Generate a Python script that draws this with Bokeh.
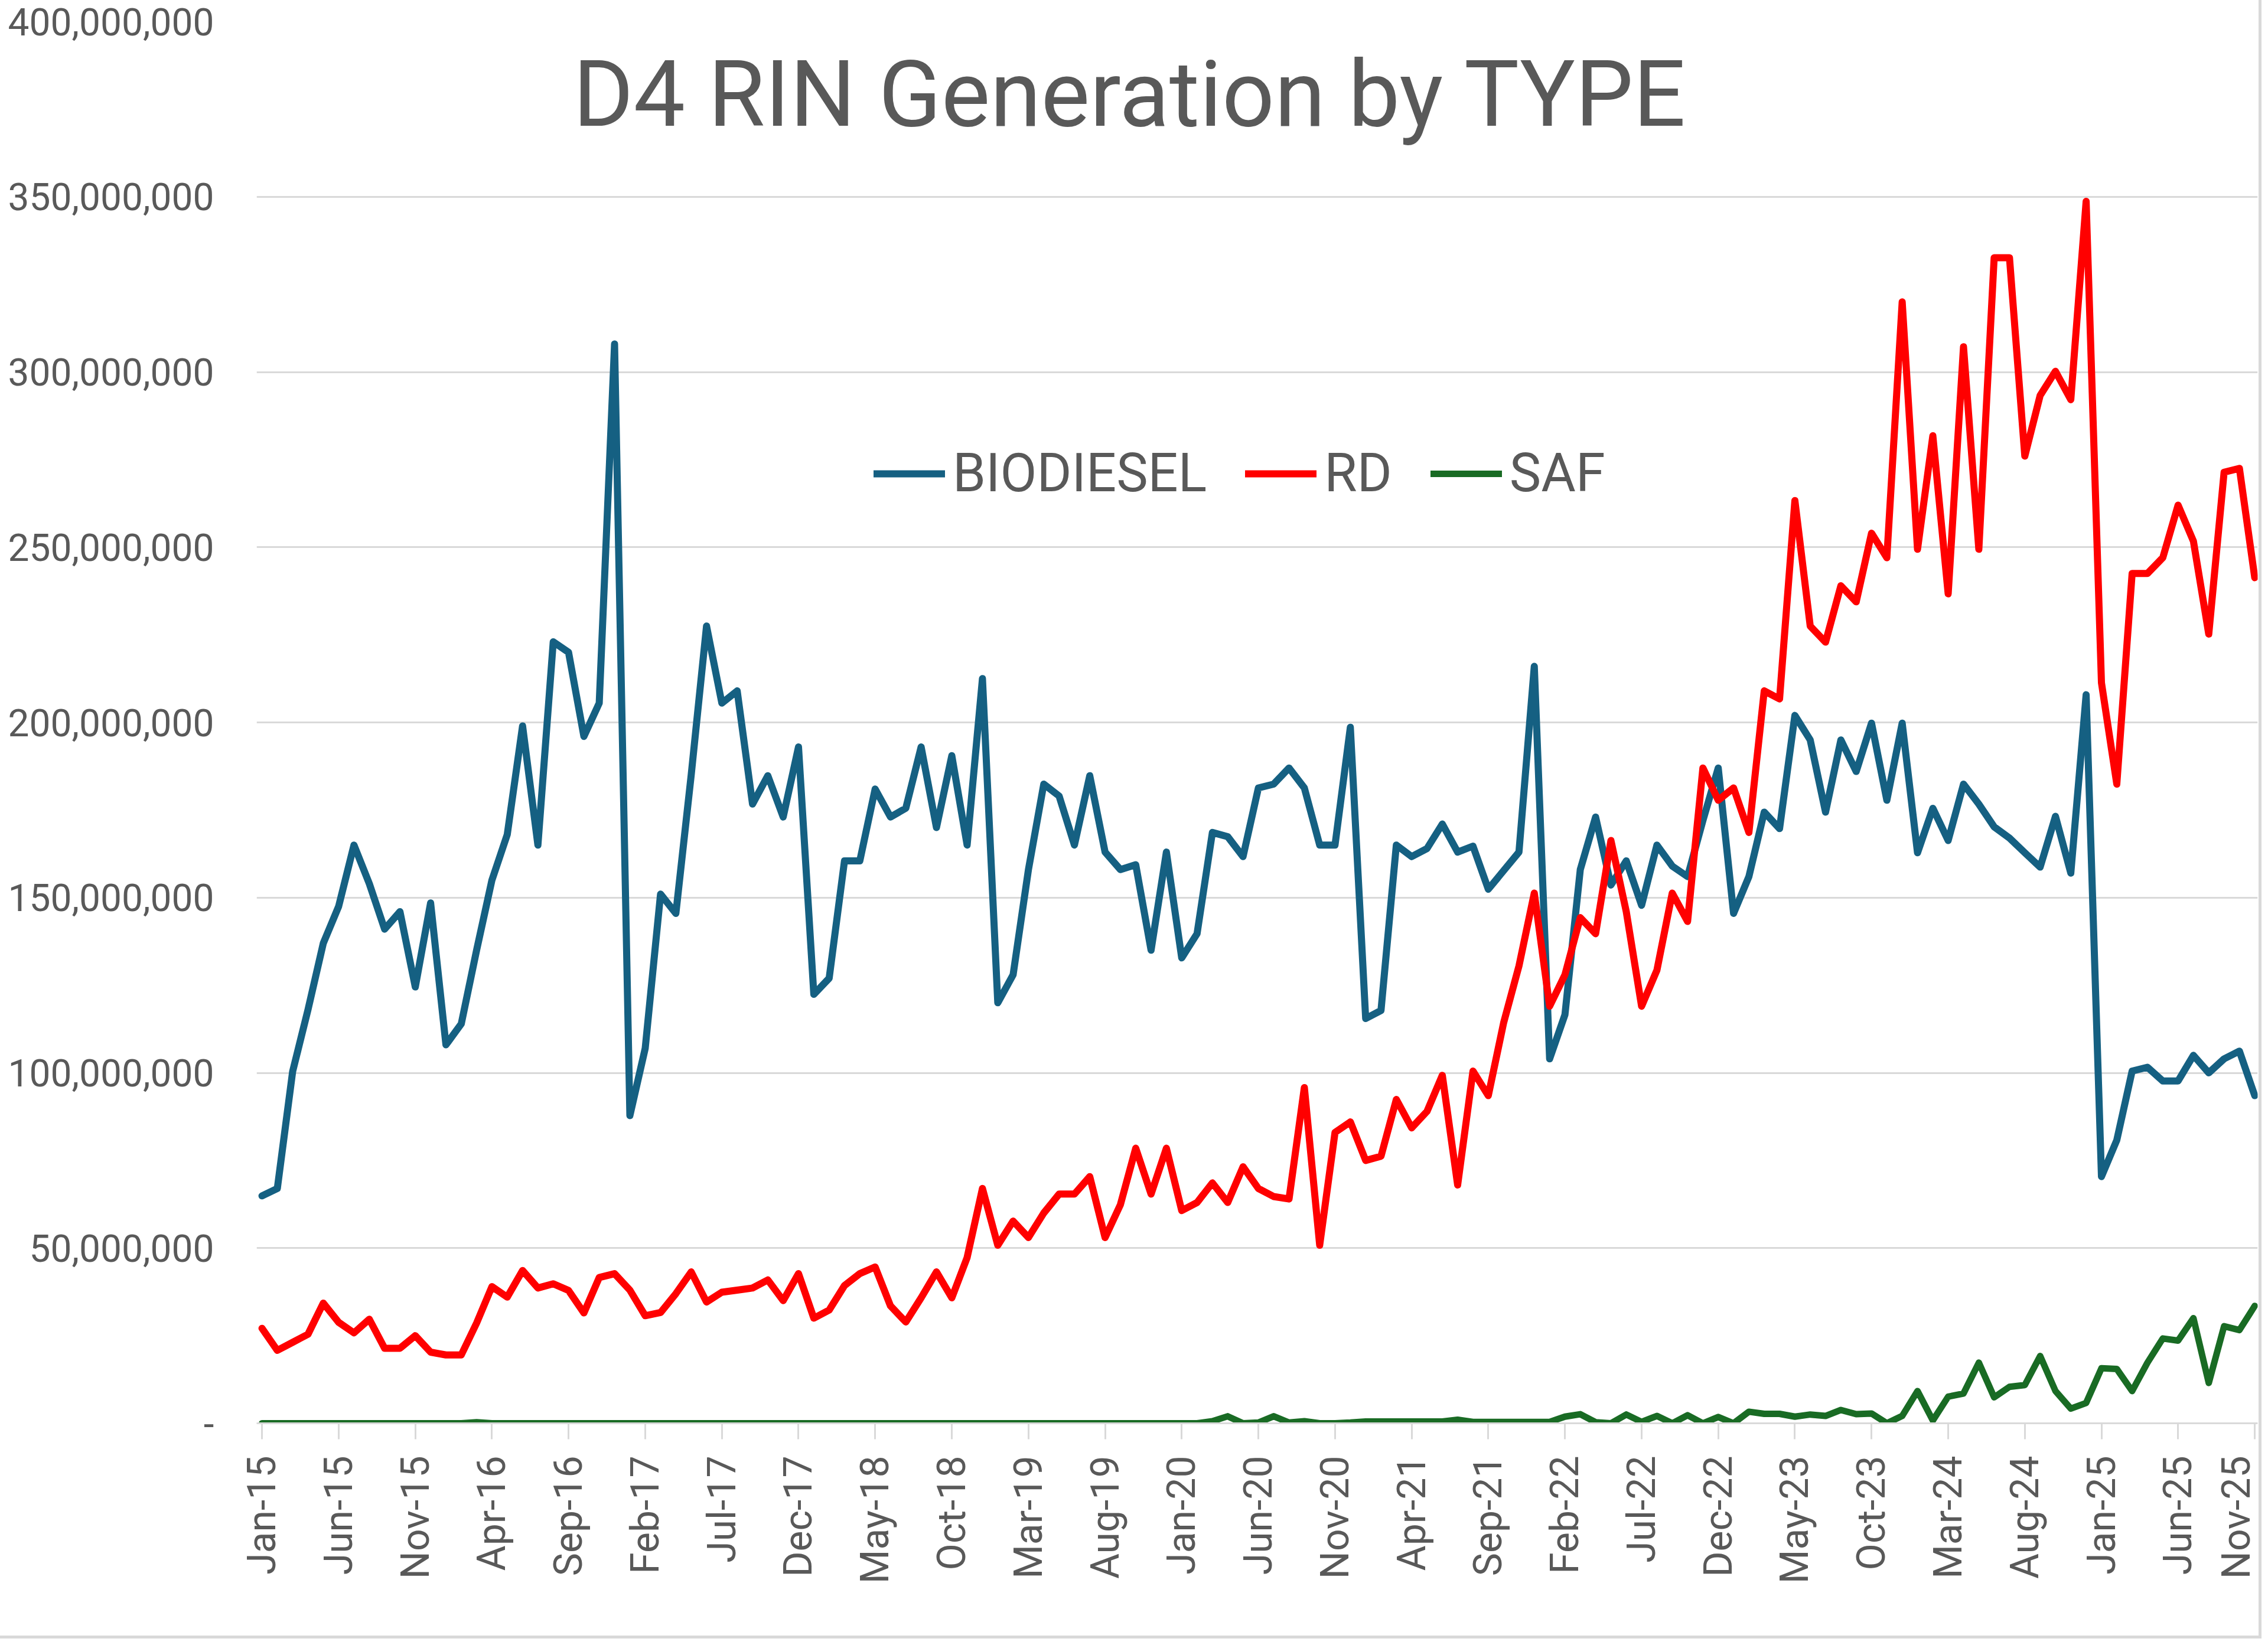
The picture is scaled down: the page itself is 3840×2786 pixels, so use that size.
from math import pi

from bokeh.plotting import figure
from bokeh.models import (ColumnDataSource, FixedTicker, Label, Legend, LegendItem,
                          NumeralTickFormatter, Range1d)
from bokeh.embed import file_html
from bokeh.resources import INLINE

TITLE = "D4 RIN Generation by TYPE"

# monthly RIN generation, millions, Jan-15 .. Nov-25
BIODIESEL = [
    64.9, 67.0, 100.4, 118.0, 137.0, 147.5, 165.0, 154.0, 141.0, 146.0,
    124.5, 148.5, 108.0, 114.0, 135.0, 155.0, 168.0, 199.0, 165.0, 223.0,
    220.0, 196.0, 205.5, 308.0, 87.8, 107.0, 151.0, 145.5, 185.0, 227.5,
    205.5, 209.0, 176.7, 184.8, 173.0, 193.0, 122.4, 127.0, 160.5, 160.5,
    181.0, 173.0, 175.5, 193.0, 170.0, 190.5, 165.0, 212.5, 120.0, 128.0,
    158.0, 182.4, 179.0, 165.0, 184.8, 163.0, 158.0, 159.4, 135.0, 163.0,
    132.8, 139.7, 168.6, 167.4, 161.7, 181.3, 182.4, 187.0, 181.3, 165.0,
    165.0, 198.6, 115.5, 117.8, 165.0, 161.7, 164.0, 171.0, 163.0, 164.7,
    152.4, 157.7, 163.0, 216.0, 104.0, 116.6, 158.0, 173.0, 153.6, 160.5,
    147.8, 165.0, 159.0, 156.0, 172.0, 187.0, 145.5, 156.0, 174.4, 169.7,
    202.0, 195.0, 174.4, 195.0, 186.0, 199.8, 177.8, 199.8, 162.8, 175.5,
    166.3, 182.4, 176.7, 170.2, 167.0, 162.8, 158.7, 173.2, 157.0, 207.9,
    70.4, 80.8, 100.5, 101.6, 97.7, 97.7, 105.0, 100.0, 104.0, 106.2,
    93.5,
]
RD = [
    27.1, 20.8, 23.1, 25.4, 34.3, 28.8, 25.8, 29.7, 21.4, 21.4,
    25.0, 20.3, 19.5, 19.5, 28.6, 39.0, 36.0, 43.6, 38.6, 39.8,
    37.9, 31.5, 41.6, 42.7, 38.0, 30.7, 31.6, 37.0, 43.2, 34.6,
    37.4, 38.0, 38.6, 40.9, 35.0, 42.7, 30.0, 32.3, 39.3, 42.7,
    44.6, 33.5, 28.9, 35.8, 43.2, 35.8, 47.3, 67.0, 50.8, 57.7,
    53.0, 60.0, 65.4, 65.4, 70.4, 53.0, 62.4, 78.5, 65.4, 78.5,
    60.7, 63.0, 68.6, 63.0, 73.2, 67.0, 64.7, 64.0, 95.8, 50.8,
    83.0, 86.0, 75.0, 76.2, 92.4, 84.3, 89.0, 99.3, 68.0, 100.5,
    93.5, 114.3, 130.5, 151.3, 119.0, 128.0, 144.3, 139.7, 166.3, 146.0,
    119.0, 129.3, 151.3, 143.2, 187.0, 177.8, 181.3, 168.6, 209.0, 206.7,
    263.3, 227.5, 222.9, 239.0, 234.4, 254.0, 247.0, 320.0, 249.4, 281.8,
    236.7, 307.2, 249.4, 332.6, 332.6, 276.0, 293.3, 300.2, 292.1, 348.7,
    211.3, 182.4, 242.5, 242.5, 247.0, 262.0, 251.7, 225.2, 271.4, 272.5,
    241.3,
]
SAF = [
    0, 0, 0, 0, 0, 0, 0, 0, 0, 0,
    0, 0, 0, 0, 0.3, 0, 0, 0, 0, 0,
    0, 0, 0, 0, 0, 0, 0, 0, 0, 0,
    0, 0, 0, 0, 0, 0, 0, 0, 0, 0,
    0, 0, 0, 0, 0, 0, 0, 0, 0, 0,
    0, 0, 0, 0, 0, 0, 0, 0, 0, 0,
    0, 0, 0.6, 2.0, 0, 0.2, 2.0, 0.2, 0.6, 0,
    0, 0.2, 0.5, 0.5, 0.5, 0.5, 0.5, 0.5, 1.0, 0.4,
    0.4, 0.4, 0.4, 0.4, 0.4, 1.9, 2.6, 0.3, 0, 2.5,
    0.4, 2.1, 0, 2.3, 0, 1.8, 0, 3.3, 2.7, 2.7,
    1.9, 2.5, 2.1, 3.8, 2.6, 2.8, 0, 2.1, 9.2, 0.8,
    7.6, 8.5, 17.3, 7.4, 10.4, 10.9, 19.2, 9.2, 4.2, 5.8,
    15.7, 15.5, 9.2, 17.3, 24.2, 23.6, 30.0, 11.5, 27.7, 26.6,
    33.5,
]

# every fifth month is labelled
TICK_LABELS = [
    "Jan-15", "Jun-15", "Nov-15", "Apr-16", "Sep-16", "Feb-17", "Jul-17",
    "Dec-17", "May-18", "Oct-18", "Mar-19", "Aug-19", "Jan-20", "Jun-20",
    "Nov-20", "Apr-21", "Sep-21", "Feb-22", "Jul-22", "Dec-22", "May-23",
    "Oct-23", "Mar-24", "Aug-24", "Jan-25", "Jun-25", "Nov-25",
]
Y_TICKS = [0, 50000000, 100000000, 150000000, 200000000,
           250000000, 300000000, 350000000, 400000000]

GRAY_TEXT = "#595959"
GRAY_LINE = "#D9D9D9"

months = list(range(len(BIODIESEL)))
source = ColumnDataSource(data=dict(
    month=months,
    biodiesel=[v * 1e6 for v in BIODIESEL],
    rd=[v * 1e6 for v in RD],
    saf=[v * 1e6 for v in SAF],
))

p = figure(width=3824, height=2770, title=None,
           output_backend="svg", toolbar_location=None,
           x_range=Range1d(-0.35, len(months) - 1 + 0.19),
           y_range=Range1d(0, 400000000),
           min_border_left=434, min_border_right=2,
           min_border_top=36, min_border_bottom=360)
p.outline_line_color = None
p.background_fill_color = "white"
p.border_fill_color = "white"
# thin grey frame round the whole chart, drawn in the page margin
p.styles = {"outline": "5px solid #D9D9D9"}

# y axis: labels only, gridlines behind
p.yaxis.ticker = FixedTicker(ticks=Y_TICKS)
p.yaxis.formatter = NumeralTickFormatter(format="0,0")
p.yaxis.major_label_overrides = {0: "-"}
p.yaxis.axis_line_color = None
p.yaxis.major_tick_line_color = None
p.yaxis.minor_tick_line_color = None
p.yaxis.major_label_standoff = 66
p.yaxis.major_label_text_font = "Roboto"
p.yaxis.major_label_text_font_size = "64px"
p.yaxis.major_label_text_color = GRAY_TEXT

p.ygrid.grid_line_color = GRAY_LINE
p.ygrid.grid_line_width = 3
p.xgrid.visible = False

# x axis: vertical month labels
tick_pos = list(range(0, len(months), 5))
p.xaxis.ticker = FixedTicker(ticks=tick_pos)
p.xaxis.major_label_overrides = {t: lab for t, lab in zip(tick_pos, TICK_LABELS)}
p.xaxis.major_label_orientation = pi / 2
p.xaxis.axis_line_color = GRAY_LINE
p.xaxis.axis_line_width = 3
p.xaxis.major_tick_line_color = GRAY_LINE
p.xaxis.major_tick_line_width = 3
p.xaxis.major_tick_out = 27
p.xaxis.major_tick_in = 0
p.xaxis.minor_tick_line_color = None
p.xaxis.major_label_standoff = 28
p.xaxis.major_label_text_font = "Roboto"
p.xaxis.major_label_text_font_size = "66px"
p.xaxis.major_label_text_color = GRAY_TEXT

r_bio = p.line("month", "biodiesel", source=source, line_color="#156082",
               line_width=12, line_join="round", line_cap="round")
r_rd = p.line("month", "rd", source=source, line_color="#FF0000",
              line_width=12, line_join="round", line_cap="round")
r_saf = p.line("month", "saf", source=source, line_color="#196B24",
               line_width=11, line_join="round", line_cap="round")

legend = Legend(items=[LegendItem(label="BIODIESEL", renderers=[r_bio]),
                       LegendItem(label="RD", renderers=[r_rd]),
                       LegendItem(label="SAF", renderers=[r_saf])],
                orientation="horizontal", location=(1045, 1556),
                glyph_width=121, glyph_height=100, label_height=100,
                label_standoff=13, spacing=65, padding=0, margin=0,
                border_line_color=None, background_fill_alpha=0,
                label_text_font="Roboto", label_text_font_size="90px",
                label_text_color=GRAY_TEXT)
p.add_layout(legend)

title = Label(x=56.64, y=379300000, text=TITLE, text_align="center",
              text_baseline="alphabetic", text_font="Roboto",
              text_font_size="156px", text_color=GRAY_TEXT)
p.add_layout(title)

open("out.html", "w").write(file_html(p, INLINE))
